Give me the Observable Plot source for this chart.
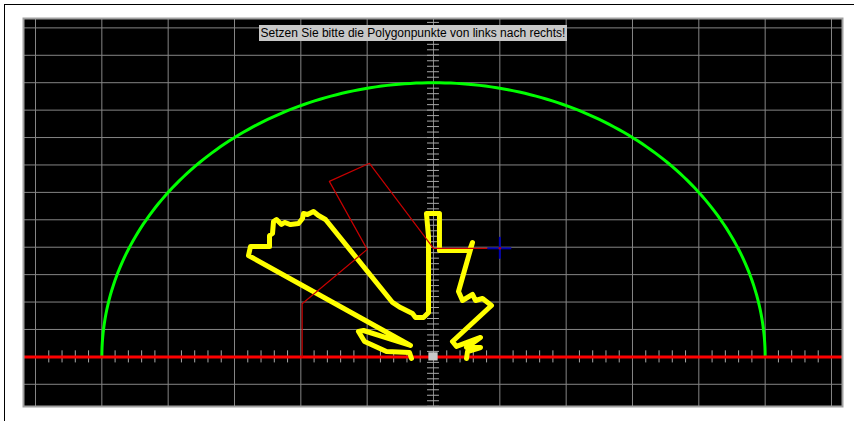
<!DOCTYPE html>
<html>
<head>
<meta charset="utf-8">
<script src="https://cdn.jsdelivr.net/npm/d3@7"></script>
<script src="https://cdn.jsdelivr.net/npm/@observablehq/plot@0.6"></script>
<style>
  html, body { margin: 0; padding: 0; background: #ffffff; }
  #wrap { position: relative; width: 854px; height: 421px; overflow: hidden; }
  #win { position: absolute; left: 4px; top: 4px; right: 0; bottom: 0; border-top: 1px solid #000; border-left: 1px solid #000; }
  #chart { position: absolute; left: 0; top: 0; }
  #hint {
    position: absolute; top: 25px; left: 259px; width: 308px; text-align: center;
    background: #c8c8c8; color: #000; height: 16px; line-height: 16px;
    white-space: nowrap; box-sizing: border-box;
    font-family: "Liberation Sans", Arial, sans-serif; font-size: 12px;
  }
</style>
</head>
<body>
<div id="wrap">
  <div id="win"></div>
  <div id="chart"></div>
  <div id="hint">Setzen Sie bitte die Polygonpunkte von links nach rechts!</div>
</div>
<script>
// ---- data ----
const hintText = "Setzen Sie bitte die Polygonpunkte von links nach rechts!";

// grid lines (major) and minor tick positions
const xGridValues = [-60, -50, -40, -30, -20, -10, 0, 10, 20, 30, 40, 50, 60];
const yGridValues = [-5, 0, 5, 10, 15, 20, 25, 30, 35, 40, 45, 50, 55, 60];
const xMinorTicks = d3.range(-58, 60, 2).filter(v => v % 10 !== 0);
const yMinorTicks = d3.range(-9, 62, 1).filter(v => v !== 0);

// semicircle radius
const arcRadius = 50;

// yellow user-drawn polygon
const polyX = [-3.32, -3.62, -7.09, -10.40, -11.31, -10.55, -3.47, -27.89, -27.59, -24.72, -24.72, -24.27, -24.12, -23.67, -22.92, -22.46, -21.56, -20.35, -19.75, -19.60, -19.00, -18.09, -17.34, -16.28, -6.18, -4.98, -3.17, -2.71, -1.51, -0.75, -0.75, -1.06, 0.90, 0.90, 5.43, 5.88, 3.77, 4.37, 5.88, 6.33, 7.39, 8.74, 2.86, 3.47, 7.09, 4.98, 7.09, 5.13, 4.98];
const polyY = [-0.29, 0.80, 0.98, 2.81, 4.63, 4.81, 2.08, 18.49, 20.13, 20.13, 22.14, 22.50, 24.69, 25.06, 24.14, 24.51, 24.14, 24.33, 25.24, 26.15, 25.97, 26.51, 25.78, 25.06, 9.92, 9.00, 7.91, 7.18, 7.18, 8.10, 21.96, 26.15, 26.15, 19.40, 19.40, 20.86, 11.93, 10.28, 11.38, 10.28, 10.65, 9.37, 2.81, 1.90, 3.54, 1.71, 1.71, 0.98, -0.29];

// thin red construction path
const guideX = [-19.8, -19.8, -10.0, -15.7, -9.65, 0, 8.1];
const guideY = [0, 9.7, 19.6, 32.0, 35.3, 19.8, 19.8];

// cursor position
const cursorX = 10;
const cursorY = 19.8;

// ---- build ----
const poly = polyX.map((x, i) => ({x, y: polyY[i]}));
const guide = guideX.map((x, i) => ({x, y: guideY[i]}));
const arc = d3.range(0, 181, 1).map(deg => ({
  x: arcRadius * Math.cos(deg * Math.PI / 180),
  y: arcRadius * Math.sin(deg * Math.PI / 180)
}));
const cursor = [{x: cursorX, y: cursorY}];
const origin = [{x: 0, y: 0}];

const tickHalfX = 0.9;   // half-length of ticks on the vertical axis (x units)
const tickHalfY = 1.1;   // half-length of ticks on the horizontal axis (y units)

const chart = Plot.plot({
  width: 854,
  height: 421,
  marginLeft: 23,
  marginRight: 12,
  marginTop: 18,
  marginBottom: 15,
  x: {domain: [-61.81, 61.66], axis: null},
  y: {domain: [-9.05, 61.71], axis: null},
  style: {background: "transparent", overflow: "visible"},
  marks: [
    Plot.frame({fill: "#000000", stroke: "none"}),
    Plot.ruleX(xGridValues, {stroke: "#858585", strokeWidth: 1}),
    Plot.ruleY(yGridValues.filter(v => v !== 0), {stroke: "#858585", strokeWidth: 1}),
    Plot.ruleY(yMinorTicks, {y: d => d, x1: -tickHalfX, x2: tickHalfX, stroke: "#a8a8a8", strokeWidth: 1}),
    Plot.ruleX(xMinorTicks, {x: d => d, y1: -tickHalfY, y2: tickHalfY, stroke: "#a8a8a8", strokeWidth: 1}),
    Plot.line(arc, {x: "x", y: "y", stroke: "#00ff00", strokeWidth: 3, curve: "linear"}),
    Plot.ruleY([0], {stroke: "#ff0000", strokeWidth: 3}),
    Plot.rect(origin, {x1: d => d.x - 0.7, x2: d => d.x + 0.7, y1: d => d.y - 0.75, y2: d => d.y + 0.75, fill: "#c8c8c8"}),
    Plot.line(poly, {x: "x", y: "y", stroke: "#ffff00", strokeWidth: 5, strokeLinejoin: "round", strokeLinecap: "round"}),
    Plot.line(guide, {x: "x", y: "y", stroke: "#c80000", strokeWidth: 1.2}),
    Plot.ruleY(cursor, {y: "y", x1: d => d.x - 1.8, x2: d => d.x + 1.8, stroke: "#0000b0", strokeWidth: 2}),
    Plot.ruleX(cursor, {x: "x", y1: d => d.y - 2.0, y2: d => d.y + 2.0, stroke: "#0000b0", strokeWidth: 2}),
    Plot.dot(cursor, {x: "x", y: "y", r: 1.2, fill: "#c00000"}),
    Plot.frame({stroke: "#a0a0a0", strokeWidth: 2})
  ]
});
document.getElementById("chart").appendChild(chart);
</script>
</body>
</html>
